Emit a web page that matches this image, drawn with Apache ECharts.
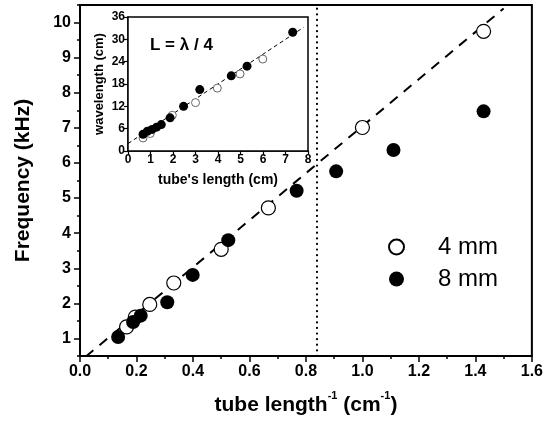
<!DOCTYPE html>
<html>
<head>
<meta charset="utf-8">
<script src="https://cdn.jsdelivr.net/npm/echarts@6/dist/echarts.min.js"></script>
<style>
  html, body { margin: 0; padding: 0; background: #fff; }
  #chart { width: 546px; height: 421px; }
</style>
</head>
<body>
<div id="chart"></div>
<script>
// Resonance frequency vs. inverse tube length, two tube diameters
const inv4mm  = [0.165, 0.196, 0.247, 0.332, 0.50, 0.667, 1.0, 1.429];
const freq4mm = [1.33, 1.61, 1.97, 2.58, 3.54, 4.72, 7.01, 9.75];
const inv8mm  = [0.135, 0.188, 0.215, 0.309, 0.399, 0.525, 0.767, 0.907, 1.110, 1.429];
const freq8mm = [1.04, 1.47, 1.65, 2.03, 2.81, 3.80, 5.21, 5.76, 6.37, 7.47];
// Linear fit drawn as a dashed line (end points)
const fitX = [0.02, 1.50];
const fitY = [0.48, 10.40];
// Vertical reference line position
const cutoffX = 0.84;

// Inset: wavelength vs. tube length
const len4mm  = [0.67, 0.99, 1.97, 3.0, 3.97, 4.98, 5.99];
const wave4mm = [3.5, 4.7, 9.6, 13.0, 16.9, 20.7, 24.7];
const len8mm  = [0.67, 0.86, 1.07, 1.27, 1.48, 1.87, 2.47, 3.19, 4.59, 5.29, 7.32];
const wave8mm = [4.5, 5.3, 5.8, 6.4, 7.1, 8.9, 12.0, 16.5, 20.2, 22.8, 31.9];
const insetFitX = [0.0, 7.8];
const insetFitY = [2.0, 33.2];

// Tick values
const freqTicks = [1, 2, 3, 4, 5, 6, 7, 8, 9, 10];
const freqMinorTicks = [0.5, 1.5, 2.5, 3.5, 4.5, 5.5, 6.5, 7.5, 8.5, 9.5, 10.5];

const zip = (a, b) => a.map((v, i) => [v, b[i]]);
const FONT = '"Liberation Sans", Arial, sans-serif';

const chart = echarts.init(document.getElementById('chart'), null, { renderer: 'canvas' });

chart.setOption({
  backgroundColor: '#fff',
  animation: false,
  textStyle: { fontFamily: FONT, color: '#000' },
  title: {
    text: 'L = λ / 4',
    left: 150, top: 37, padding: 0,
    textStyle: { fontFamily: FONT, fontSize: 17, fontWeight: 'bold', color: '#000' }
  },
  legend: {
    data: ['4 mm', '8 mm'],
    orient: 'vertical',
    left: 383, top: 230,
    itemWidth: 15, itemHeight: 15, itemGap: 8,
    textStyle: { fontFamily: FONT, fontSize: 24, color: '#000', padding: [0, 0, 0, 29] }
  },
  grid: [
    { left: 80, right: 13, top: 5, bottom: 65, show: true, borderColor: '#000', borderWidth: 2, backgroundColor: 'transparent', z: 0 },
    { left: 128, top: 17, width: 180, height: 134, show: true, borderColor: '#000', borderWidth: 1.5, backgroundColor: '#fff', z: 3 }
  ],
  xAxis: [
    {
      gridIndex: 0, type: 'value', min: 0, max: 1.6, interval: 0.2,
      name: '{t|tube length}{s|-1}{t| (cm}{s|-1}{t|)}',
      nameLocation: 'middle', nameGap: 34,
      nameTextStyle: {
        rich: {
          t: { fontFamily: FONT, fontSize: 21, fontWeight: 'bold', color: '#000', verticalAlign: 'bottom', lineHeight: 26 },
          s: { fontFamily: FONT, fontSize: 11, fontWeight: 'bold', color: '#000', verticalAlign: 'top', lineHeight: 26, padding: [0, 0, 14, 0] }
        }
      },
      axisLine: { lineStyle: { color: '#000', width: 2 } },
      axisTick: { length: 6, lineStyle: { color: '#000', width: 1.5 } },
      minorTick: { show: true, splitNumber: 2, length: 3, lineStyle: { color: '#000', width: 1.5 } },
      axisLabel: { fontFamily: FONT, fontSize: 16, fontWeight: 'bold', color: '#000', margin: 8, formatter: v => v.toFixed(1) },
      splitLine: { show: false }
    },
    {
      gridIndex: 1, type: 'value', min: 0, max: 8, interval: 1,
      name: "tube's length (cm)", nameLocation: 'middle', nameGap: 22,
      nameTextStyle: { fontFamily: FONT, fontSize: 14, fontWeight: 'bold', color: '#000' },
      axisLine: { lineStyle: { color: '#000', width: 1.5 } },
      axisTick: { length: 4, lineStyle: { color: '#000', width: 1.2 } },
      axisLabel: { fontFamily: FONT, fontSize: 12, fontWeight: 'bold', color: '#000', margin: 3 },
      splitLine: { show: false }
    }
  ],
  yAxis: [
    {
      gridIndex: 0, type: 'value', min: 0.5, max: 10.5, position: 'left',
      name: 'Frequency (kHz)', nameLocation: 'middle', nameGap: 46,
      nameTextStyle: { fontFamily: FONT, fontSize: 21, fontWeight: 'bold', color: '#000' },
      axisLine: { lineStyle: { color: '#000', width: 2 } },
      axisTick: { length: 6, customValues: freqTicks, lineStyle: { color: '#000', width: 1.5 } },
      axisLabel: { fontFamily: FONT, fontSize: 16, fontWeight: 'bold', color: '#000', margin: 9, customValues: freqTicks },
      splitLine: { show: false }
    },
    {
      gridIndex: 0, type: 'value', min: 0.5, max: 10.5, position: 'left',
      axisLine: { show: false },
      axisTick: { length: 3, customValues: freqMinorTicks, lineStyle: { color: '#000', width: 1.5 } },
      axisLabel: { show: false },
      splitLine: { show: false }
    },
    {
      gridIndex: 1, type: 'value', min: 0, max: 36, interval: 6,
      name: 'wavelength (cm)', nameLocation: 'middle', nameGap: 22,
      nameTextStyle: { fontFamily: FONT, fontSize: 13, fontWeight: 'bold', color: '#000' },
      axisLine: { lineStyle: { color: '#000', width: 1.5 } },
      axisTick: { length: 4, lineStyle: { color: '#000', width: 1.2 } },
      axisLabel: { fontFamily: FONT, fontSize: 12, fontWeight: 'bold', color: '#000', margin: 3 },
      splitLine: { show: false }
    }
  ],
  series: [
    {
      name: 'fit', type: 'line', xAxisIndex: 0, yAxisIndex: 0, z: 1,
      data: zip(fitX, fitY), symbol: 'none',
      lineStyle: { color: '#000', width: 2, type: [10, 8] },
      markLine: {
        silent: true, symbol: 'none', label: { show: false },
        lineStyle: { color: '#000', width: 2.2, type: [0.1, 5.5], cap: 'round' },
        data: [{ xAxis: cutoffX }]
      }
    },
    {
      name: '4 mm', type: 'scatter', xAxisIndex: 0, yAxisIndex: 0, z: 2,
      data: zip(inv4mm, freq4mm), symbol: 'circle', symbolSize: 14,
      itemStyle: { color: '#fff', borderColor: '#000', borderWidth: 1.2, opacity: 1 }
    },
    {
      name: '8 mm', type: 'scatter', xAxisIndex: 0, yAxisIndex: 0, z: 2,
      data: zip(inv8mm, freq8mm), symbol: 'circle', symbolSize: 14,
      itemStyle: { color: '#000', opacity: 1 }
    },
    {
      name: 'inset fit', type: 'line', xAxisIndex: 1, yAxisIndex: 2, z: 4,
      data: zip(insetFitX, insetFitY), symbol: 'none',
      lineStyle: { color: '#000', width: 1, type: [4, 3] }
    },
    {
      name: 'inset 4 mm', type: 'scatter', xAxisIndex: 1, yAxisIndex: 2, z: 5,
      data: zip(len4mm, wave4mm), symbol: 'circle', symbolSize: 8,
      itemStyle: { color: '#fff', borderColor: '#666', borderWidth: 1, opacity: 1 }
    },
    {
      name: 'inset 8 mm', type: 'scatter', xAxisIndex: 1, yAxisIndex: 2, z: 5,
      data: zip(len8mm, wave8mm), symbol: 'circle', symbolSize: 9,
      itemStyle: { color: '#000', opacity: 1 }
    }
  ]
});
</script>
</body>
</html>
